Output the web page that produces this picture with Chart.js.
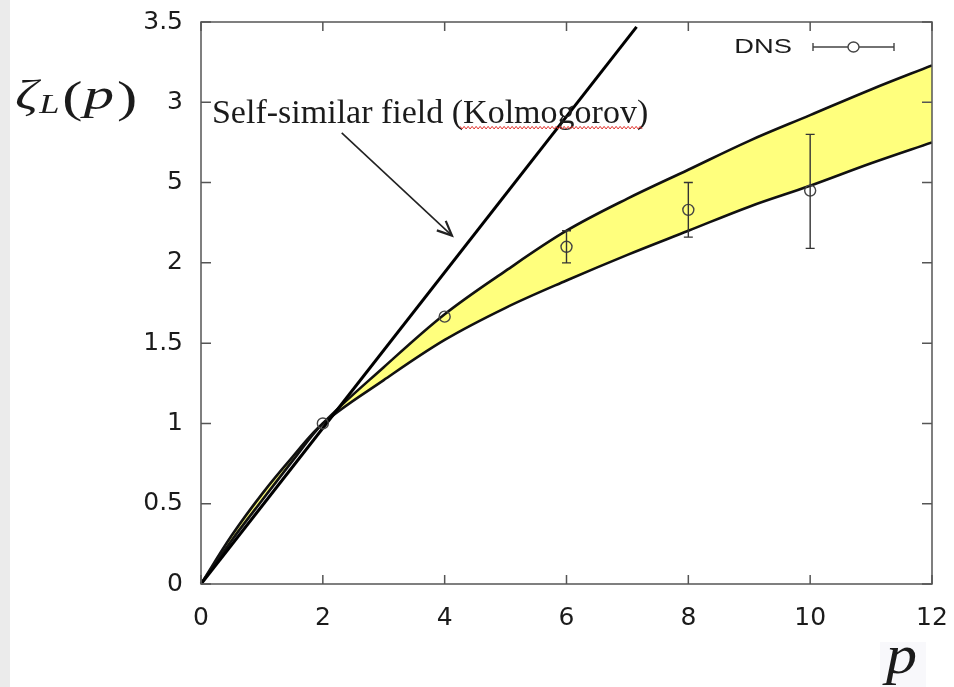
<!DOCTYPE html>
<html><head><meta charset="utf-8">
<script src="https://cdn.jsdelivr.net/npm/chart.js@4"></script>
<style>
html,body{margin:0;padding:0;background:#fff;}
body{width:954px;height:687px;overflow:hidden;position:relative;}
#strip{position:absolute;left:0;top:0;width:10px;height:687px;background:#ebebeb;}
#wrap{position:absolute;left:0;top:0;width:954px;height:687px;}
</style></head><body>
<div id="strip"></div>
<div id="wrap"><canvas id="c" width="954" height="687"></canvas></div>
<script>
// ---- data ----
const pGrid      = [0, 0.5, 1, 1.5, 2, 3, 4, 5, 6, 7, 8, 9, 10, 11, 12];
const bandUpper  = [0, 0.27, 0.52, 0.765, 1.0, 1.35, 1.68, 1.95, 2.20, 2.40, 2.58, 2.76, 2.92, 3.08, 3.23];
const bandLower  = [0, 0.30, 0.56, 0.79, 1.0, 1.27, 1.52, 1.72, 1.89, 2.05, 2.20, 2.35, 2.48, 2.62, 2.75];
const kolmogorovP    = [0, 7.15];
const kolmogorovZeta = [0, 3.47];
const dnsP     = [2, 4, 6, 8, 10];
const dnsZeta  = [1.0, 1.665, 2.10, 2.33, 2.45];
const dnsLow   = [1.0, 1.66, 2.00, 2.16, 2.09];
const dnsHigh  = [1.0, 1.67, 2.20, 2.50, 2.80];
const xTickLabels = ['0', '2', '4', '6', '8', '10', '12'];
const yTickLabels = ['0', '0.5', '1', '1.5', '2', '5', '3', '3.5'];
const annotationText = 'Self-similar field (Kolmogorov)';
const legendLabel = 'DNS';

const pts = (xs, ys) => xs.map((x, i) => ({x: x, y: ys[i]}));

const INK = '#1b1b1b';
const FRAME = '#555';
const TICK_FONT = { family: '"DejaVu Sans", "Liberation Sans", Arial, sans-serif', size: 25 };
const FRAME_TOP = 22, FRAME_RIGHT = 932;

const decorPlugin = {
  id: 'decor',
  afterLayout(chart) {
    const a = chart.chartArea;
    a.top = FRAME_TOP; a.right = FRAME_RIGHT;
    a.width = a.right - a.left; a.height = a.bottom - a.top;
    const ys = chart.scales.y, xs = chart.scales.x;
    ys.top = FRAME_TOP; ys.height = ys.bottom - ys.top; ys.configure();
    xs.right = FRAME_RIGHT; xs.width = xs.right - xs.left; xs.configure();
  },
  afterDatasetsDraw(chart) {
    const ctx = chart.ctx, xs = chart.scales.x, ys = chart.scales.y, a = chart.chartArea;
    ctx.save();
    // error bars
    ctx.strokeStyle = '#333'; ctx.lineWidth = 1.4;
    dnsP.forEach((p, i) => {
      if (dnsHigh[i] - dnsLow[i] < 0.02) return;
      const x = xs.getPixelForValue(p), y1 = ys.getPixelForValue(dnsLow[i]), y2 = ys.getPixelForValue(dnsHigh[i]);
      ctx.beginPath();
      ctx.moveTo(x, y1); ctx.lineTo(x, y2);
      ctx.moveTo(x - 4.5, y1); ctx.lineTo(x + 4.5, y1);
      ctx.moveTo(x - 4.5, y2); ctx.lineTo(x + 4.5, y2);
      ctx.stroke();
    });
    // frame
    ctx.strokeStyle = FRAME; ctx.lineWidth = 1.5;
    ctx.strokeRect(a.left, a.top, a.right - a.left, a.bottom - a.top);
    // inward ticks
    ctx.beginPath();
    for (let v = 0; v <= 12; v += 2) {
      const x = xs.getPixelForValue(v);
      ctx.moveTo(x, a.bottom); ctx.lineTo(x, a.bottom - 9);
      ctx.moveTo(x, a.top); ctx.lineTo(x, a.top + 9);
    }
    for (let v = 0; v <= 3.5; v += 0.5) {
      const y = ys.getPixelForValue(v);
      ctx.moveTo(a.left, y); ctx.lineTo(a.left + 10, y);
      ctx.moveTo(a.right, y); ctx.lineTo(a.right - 10, y);
    }
    ctx.stroke();
    ctx.restore();
  },
  afterDraw(chart) {
    const ctx = chart.ctx, xs = chart.scales.x, ys = chart.scales.y, a = chart.chartArea;
    ctx.save();
    // annotation text
    const tx = xs.getPixelForValue(0.18), ty = ys.getPixelForValue(2.87);
    ctx.font = '34px "Liberation Serif", "Times New Roman", serif';
    ctx.fillStyle = INK; ctx.textBaseline = 'alphabetic'; ctx.textAlign = 'left';
    ctx.fillText(annotationText, tx, ty);
    // spell-check squiggle under "Kolmogorov"
    const pre = ctx.measureText('Self-similar field (').width;
    const word = ctx.measureText('Kolmogorov)').width;
    const sx0 = tx + pre - 3, sx1 = tx + pre + word - 6, sy = ty + 4.5;
    ctx.strokeStyle = '#e0302a'; ctx.lineWidth = 1;
    ctx.beginPath();
    for (let x = sx0, k = 0; x <= sx1; x += 2, k++) {
      const y = sy + (k % 2 ? 1.3 : -1.3);
      if (k === 0) ctx.moveTo(x, y); else ctx.lineTo(x, y);
    }
    ctx.stroke();
    // arrow
    const ax0 = xs.getPixelForValue(2.31), ay0 = ys.getPixelForValue(2.81);
    const ax1 = xs.getPixelForValue(4.12), ay1 = ys.getPixelForValue(2.17);
    ctx.strokeStyle = '#222'; ctx.lineWidth = 1.6;
    ctx.beginPath(); ctx.moveTo(ax0, ay0); ctx.lineTo(ax1, ay1); ctx.stroke();
    const ang = Math.atan2(ay1 - ay0, ax1 - ax0), hl = 16, hw = 0.42;
    ctx.lineWidth = 2.2;
    ctx.beginPath();
    ctx.moveTo(ax1 - hl * Math.cos(ang - hw), ay1 - hl * Math.sin(ang - hw));
    ctx.lineTo(ax1, ay1);
    ctx.lineTo(ax1 - hl * Math.cos(ang + hw), ay1 - hl * Math.sin(ang + hw));
    ctx.stroke();
    // legend
    const ly = a.top + 25;
    ctx.save();
    ctx.translate(a.right - 140, ly);
    ctx.scale(1.3, 1);
    ctx.font = '21px "Liberation Sans", Arial, sans-serif';
    ctx.fillStyle = INK; ctx.textAlign = 'right'; ctx.textBaseline = 'middle';
    ctx.fillText(legendLabel, 0, 0);
    ctx.restore();
    const l0 = a.right - 119, l1 = a.right - 38, lc = (l0 + l1) / 2;
    ctx.strokeStyle = '#444'; ctx.lineWidth = 1.4;
    ctx.beginPath();
    ctx.moveTo(l0, ly); ctx.lineTo(lc - 5.5, ly);
    ctx.moveTo(lc + 5.5, ly); ctx.lineTo(l1, ly);
    ctx.moveTo(l0, ly - 4); ctx.lineTo(l0, ly + 4);
    ctx.moveTo(l1, ly - 4); ctx.lineTo(l1, ly + 4);
    ctx.stroke();
    ctx.beginPath(); ctx.ellipse(lc, ly, 5.5, 5, 0, 0, Math.PI * 2); ctx.stroke();
    // y-axis title: zeta_L(p)
    ctx.save();
    ctx.translate(15, 109);
    ctx.scale(1.35, 1);
    ctx.textAlign = 'left'; ctx.textBaseline = 'alphabetic'; ctx.fillStyle = INK;
    ctx.font = 'italic 42px "Liberation Serif", "DejaVu Serif", serif';
    ctx.fillText('ζ', 0, 0);
    let cx = ctx.measureText('ζ').width + 1;
    ctx.font = 'italic 27px "Liberation Serif", "DejaVu Serif", serif';
    ctx.fillText('L', cx, 4);
    cx += ctx.measureText('L').width + 2;
    ctx.font = '45px "Liberation Serif", serif';
    ctx.fillText('(', cx, 3);
    cx += ctx.measureText('(').width + 1;
    ctx.font = 'italic 45px "Liberation Serif", serif';
    ctx.fillText('p', cx, 0);
    cx += ctx.measureText('p').width + 2;
    ctx.font = '45px "Liberation Serif", serif';
    ctx.fillText(')', cx, 3);
    ctx.restore();
    // x-axis title: p
    ctx.fillStyle = 'rgba(226,229,238,0.25)';
    ctx.fillRect(a.right - 52, 642, 46, 45);
    ctx.save();
    ctx.translate(a.right - 46, 673);
    ctx.scale(1.15, 1);
    ctx.fillStyle = INK; ctx.textAlign = 'left'; ctx.textBaseline = 'alphabetic';
    ctx.font = 'italic 54px "Liberation Serif", serif';
    ctx.fillText('p', 0, 0);
    ctx.restore();
    ctx.restore();
  }
};

const chart = new Chart(document.getElementById('c'), {
  type: 'scatter',
  data: {
    datasets: [
      { label: 'upper', type: 'line', data: pts(pGrid, bandUpper), borderColor: '#111', borderWidth: 2.6, order: 3,
        backgroundColor: 'rgb(255,255,125)', fill: '+1', pointRadius: 0, tension: 0.35 },
      { label: 'lower', type: 'line', data: pts(pGrid, bandLower), borderColor: '#111', borderWidth: 2.6, order: 2,
        fill: false, pointRadius: 0, tension: 0.35 },
      { label: 'Kolmogorov', type: 'line', data: pts(kolmogorovP, kolmogorovZeta), borderColor: '#000', borderWidth: 3, order: 1,
        fill: false, pointRadius: 0, clip: false },
      { label: legendLabel, data: pts(dnsP, dnsZeta), pointStyle: 'circle', pointRadius: 5.5, order: 0,
        borderColor: '#444', borderWidth: 1.4, backgroundColor: 'rgba(0,0,0,0)' }
    ]
  },
  options: {
    responsive: false, animation: false, devicePixelRatio: 1,
    layout: { padding: { left: 0, right: 22, top: 22, bottom: 0 } },
    plugins: { legend: { display: false }, tooltip: { enabled: false } },
    scales: {
      x: {
        type: 'linear', min: 0, max: 12,
        grid: { display: false, drawTicks: false }, border: { display: false },
        ticks: { stepSize: 2, padding: 19, color: INK, font: TICK_FONT,
          maxRotation: 0, callback: (v) => xTickLabels[Math.round(v / 2)] },
        afterFit: (s) => { s.height = 103; }
      },
      y: {
        min: 0, max: 3.5,
        grid: { display: false, drawTicks: false }, border: { display: false },
        ticks: { stepSize: 0.5, padding: 18, color: INK, font: TICK_FONT,
          callback: (v) => yTickLabels[Math.round(v / 0.5)] },
        afterFit: (s) => { s.width = 201; }
      }
    }
  },
  plugins: [decorPlugin]
});
</script>
</body></html>
